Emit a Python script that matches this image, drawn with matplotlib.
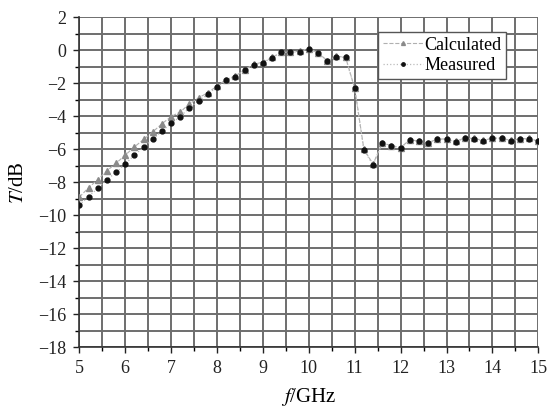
import numpy as np
import matplotlib
matplotlib.use("Agg")
import matplotlib.pyplot as plt
from matplotlib.ticker import MultipleLocator

plt.rcParams['font.family'] = ['Liberation Serif', 'DejaVu Serif']
plt.rcParams['mathtext.fontset'] = 'stix'

# frequency, GHz (0.2 GHz step)
freq = [5.0, 5.2, 5.4, 5.6, 5.8, 6.0, 6.2, 6.4, 6.6, 6.8, 7.0, 7.2, 7.4, 7.6, 7.8,
        8.0, 8.2, 8.4, 8.6, 8.8, 9.0, 9.2, 9.4, 9.6, 9.8, 10.0, 10.2, 10.4, 10.6, 10.8,
        11.0, 11.2, 11.4, 11.6, 11.8, 12.0, 12.2, 12.4, 12.6, 12.8, 13.0, 13.2, 13.4,
        13.6, 13.8, 14.0, 14.2, 14.4, 14.6, 14.8, 15.0]

measured = [-9.4, -8.87, -8.38, -7.84, -7.41, -6.89, -6.36, -5.88, -5.41, -4.89, -4.44,
            -4.02, -3.49, -3.07, -2.67, -2.22, -1.82, -1.60, -1.21, -0.89, -0.75, -0.46,
            -0.14, -0.14, -0.08, 0.10, -0.18, -0.65, -0.40, -0.44, -2.32, -6.06, -6.95,
            -5.64, -5.80, -5.92, -5.45, -5.53, -5.64, -5.39, -5.41, -5.55, -5.33, -5.37,
            -5.49, -5.35, -5.35, -5.49, -5.39, -5.37, -5.53]

calculated = [-8.9, -8.34, -7.84, -7.31, -6.85, -6.36, -5.86, -5.41, -4.95, -4.46, -4.02,
              -3.74, -3.25, -2.89, -2.57, -2.17, -1.78, -1.56, -1.18, -0.86, -0.72, -0.44,
              -0.12, -0.12, -0.06, 0.10, -0.16, -0.63, -0.38, -0.42, -2.30, -6.00, -6.90,
              -5.62, -5.78, -5.90, -5.43, -5.51, -5.62, -5.37, -5.39, -5.53, -5.31, -5.35,
              -5.47, -5.33, -5.33, -5.47, -5.37, -5.35, -5.51]

fig = plt.figure(figsize=(5.49, 4.09), dpi=100)
ax = fig.add_axes([0.1445, 0.151, 0.836, 0.807])

ax.plot(freq, calculated, linestyle='--', color='#b0b0b0', linewidth=0.8,
        marker='^', markersize=4, markerfacecolor='#8a8a8a', markeredgecolor='#8a8a8a',
        label='Calculated', zorder=3)
ax.plot(freq, measured, linestyle=':', color='#bcbcbc', linewidth=0.9,
        marker='o', markersize=3.5, markerfacecolor='#111111', markeredgecolor='#111111',
        label='Measured', zorder=4)

ax.set_xlim(5, 15)
ax.set_ylim(-18, 2)
ax.xaxis.set_major_locator(MultipleLocator(1))
ax.xaxis.set_minor_locator(MultipleLocator(0.5))
ax.yaxis.set_major_locator(MultipleLocator(2))
ax.yaxis.set_minor_locator(MultipleLocator(1))
ax.grid(which='both', color='#6e6e6e', linewidth=1.4)
ax.set_axisbelow(True)

for side in ['top', 'right']:
    ax.spines[side].set_visible(False)
for side in ['left', 'bottom']:
    ax.spines[side].set_color('#333333')
    ax.spines[side].set_linewidth(1.2)

ax.tick_params(which='major', direction='out', length=4, width=1, labelsize=13,
               colors='#222222', pad=5.5)
ax.tick_params(which='minor', direction='out', length=3, width=1)

ax.set_xlabel('$f$/GHz', fontsize=15)
ax.set_ylabel('$T$/dB', fontsize=15)
ax.xaxis.set_label_coords(0.5, -0.118)
ax.yaxis.set_label_coords(-0.112, 0.5)

leg = ax.legend(loc='upper right', bbox_to_anchor=(0.93, 0.955), fontsize=13,
                frameon=True, fancybox=False, handlelength=2.2, handletextpad=0.1,
                borderpad=0.25, labelspacing=0.2, borderaxespad=0, markerscale=0.7)
leg.get_frame().set_edgecolor('#555555')
leg.get_frame().set_linewidth(1.0)
leg.get_frame().set_alpha(1)

fig.savefig('out.png', dpi=100)
